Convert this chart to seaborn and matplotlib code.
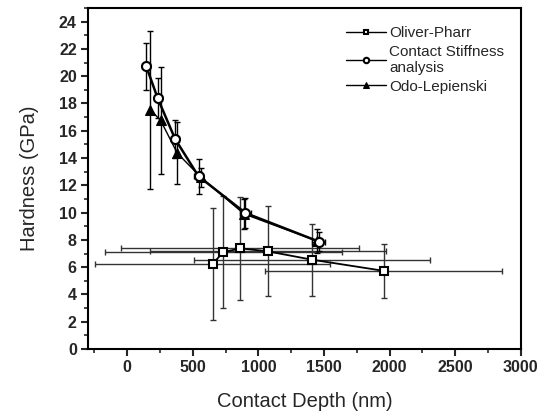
import matplotlib
matplotlib.use("Agg")
import matplotlib.pyplot as plt
import seaborn as sns
from matplotlib.ticker import MultipleLocator

# Oliver-Pharr
op_depth = [650, 732, 862, 1071, 1407, 1955]
op_depth_err = [898, 905, 907, 901, 902, 903]
op_hard = [6.24, 7.1, 7.38, 7.16, 6.55, 5.73]
op_hard_err = [4.1, 4.1, 3.8, 3.3, 2.65, 2.0]

# Contact Stiffness analysis
cs_depth = [145, 231, 365, 543, 901, 1459]
cs_depth_err = [30, 30, 30, 35, 40, 50]
cs_hard = [20.72, 18.4, 15.39, 12.66, 9.97, 7.88]
cs_hard_err = [1.7, 1.5, 1.4, 1.3, 1.1, 0.7]

# Odo-Lepienski
ol_depth = [175, 254, 381, 560, 890, 1444]
ol_hard = [17.54, 16.76, 14.36, 12.6, 9.9, 7.93]
ol_hard_err = [5.8, 3.9, 2.3, 0.7, 1.1, 0.9]

sns.set_theme(style="ticks")
plt.rcParams['font.family'] = ['Liberation Sans', 'DejaVu Sans']

fig = plt.figure(figsize=(5.46, 4.19), dpi=100)
ax = fig.add_axes([0.161, 0.167, 0.793, 0.814])

# error bars first
ax.errorbar(op_depth, op_hard, xerr=op_depth_err, yerr=op_hard_err, fmt='none',
            ecolor='#333333', elinewidth=1.0, capsize=2.5, capthick=1.0, zorder=1)
ax.errorbar(cs_depth, cs_hard, xerr=cs_depth_err, yerr=cs_hard_err, fmt='none',
            ecolor='black', elinewidth=1.0, capsize=2.5, capthick=1.0, zorder=1)
ax.errorbar(ol_depth, ol_hard, yerr=ol_hard_err, fmt='none',
            ecolor='black', elinewidth=1.0, capsize=2.5, capthick=1.0, zorder=1)

sns.lineplot(x=op_depth, y=op_hard, sort=False, ax=ax, color='black', linewidth=1.3,
             marker='s', markersize=6, markerfacecolor='white', markeredgecolor='black',
             markeredgewidth=1.5, label='Oliver-Pharr', zorder=3)
sns.lineplot(x=cs_depth, y=cs_hard, sort=False, ax=ax, color='black', linewidth=1.8,
             marker='o', markersize=6.5, markerfacecolor='white', markeredgecolor='black',
             markeredgewidth=1.5, label='Contact Stiffness\nanalysis', zorder=3)
sns.lineplot(x=ol_depth, y=ol_hard, sort=False, ax=ax, color='black', linewidth=1.0,
             marker='^', markersize=7, markerfacecolor='black', markeredgecolor='black',
             label='Odo-Lepienski', zorder=2)

ax.set_xlim(-300, 3000)
ax.set_ylim(0, 25)
ax.xaxis.set_minor_locator(MultipleLocator(250))
ax.yaxis.set_major_locator(MultipleLocator(2))
ax.yaxis.set_minor_locator(MultipleLocator(1))
ax.set_xticks(range(0, 3001, 500))
ax.tick_params(which='major', direction='out', length=5, width=1.5, labelsize=11.5,
               top=False, right=False, pad=3)
ax.tick_params(which='minor', direction='out', length=3, width=1.2, top=False, right=False)
for lab in ax.get_xticklabels() + ax.get_yticklabels():
    lab.set_fontweight('bold')
for sp in ax.spines.values():
    sp.set_linewidth(1.5)
    sp.set_color('black')

ax.set_xlabel('Contact Depth (nm)', fontsize=14.5, labelpad=12)
ax.set_ylabel('Hardness (GPa)', fontsize=14.5, labelpad=14)

leg = ax.legend(loc='upper right', bbox_to_anchor=(1.0, 0.995), frameon=False, fontsize=11,
                handlelength=2.6, handletextpad=0.2, labelspacing=0.3, borderpad=0.6,
                markerscale=0.6)
for h in leg.get_lines():
    h.set_linewidth(1.0)

fig.savefig('out.png', dpi=100)
